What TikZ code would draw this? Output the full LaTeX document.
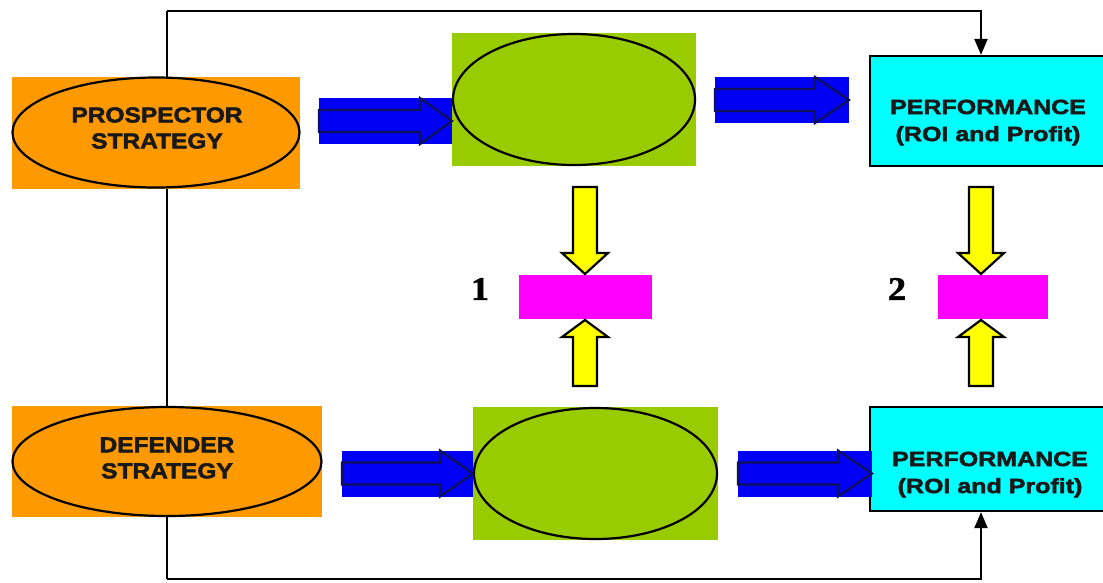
\documentclass[tikz,border=0pt]{standalone}
\usepackage{fontspec}
\setmainfont{Liberation Sans}
\newfontfamily\orfont[FakeStretch=1.14,FakeBold=2.5]{Liberation Sans Bold}
\newfontfamily\cyfont[FakeStretch=1.22,FakeBold=2.5]{Liberation Sans Bold}
\newfontfamily\numfont[FakeStretch=1.1,FakeBold=1.5]{Liberation Serif Bold}
\usetikzlibrary{shapes.geometric,arrows.meta}
\definecolor{orng}{RGB}{255,153,0}
\definecolor{lgreen}{RGB}{153,204,0}
\definecolor{blu}{RGB}{0,0,245}
\definecolor{navy}{RGB}{15,15,90}
\definecolor{cyn}{RGB}{0,255,255}
\definecolor{mag}{RGB}{255,0,255}
\definecolor{yel}{RGB}{255,255,0}
\definecolor{txt}{RGB}{25,25,25}
\tikzset{
  orbox/.style={rectangle,fill=orng,draw=none,inner sep=0pt},
  grbox/.style={rectangle,fill=lgreen,draw=none,inner sep=0pt},
  inell/.style={ellipse,draw=black,line width=2.2pt,inner sep=0pt},
  cybox/.style={rectangle,fill=cyn,draw=black,line width=2.2pt,inner sep=0pt},
  mgbox/.style={rectangle,fill=mag,draw=none,inner sep=0pt},
  ortext/.style={align=center,inner sep=0pt,text=txt,font=\orfont\fontsize{21.5}{26}\selectfont},
  cytext/.style={align=center,inner sep=0pt,text=txt,font=\cyfont\fontsize{20.5}{27}\selectfont},
  numtext/.style={inner sep=0pt,text=black,font=\numfont\fontsize{33}{36}\selectfont},
  link/.style={draw=black,line width=2.2pt},
  linkarrow/.style={link,-{Triangle[width=13pt,length=16pt]}},
  bluarrow/.style={fill=blu,draw=navy,line width=2.2pt,line join=miter},
  yelarrow/.style={fill=yel,draw=black,line width=2.2pt,line join=miter}
}
% blue block arrow: x1, x2, ycenter, head start
\newcommand{\blockarrow}[4]{%
  \fill[blu] (#1,#3-23) rectangle (#2,#3+23);
  \path[bluarrow] (#1,#3-11) -- (#4,#3-11) -- (#4,#3-23) -- (#2,#3) -- (#4,#3+23) -- (#4,#3+11) -- (#1,#3+11) -- cycle;}
% yellow arrow pointing down: x, ytop, headbase, tip
\newcommand{\yeldown}[4]{%
  \path[yelarrow] (#1-12,#2) -- (#1+12,#2) -- (#1+12,#3) -- (#1+23,#3) -- (#1,#4) -- (#1-23,#3) -- (#1-12,#3) -- cycle;}
\begin{document}
\begin{tikzpicture}[x=1pt,y=-1pt]
\useasboundingbox (0,0) rectangle (1103,582);
% corner coordinates of the feedback lines
\coordinate (tl) at (167,11);
\coordinate (bl) at (167,579);
\coordinate (tr) at (981,11);
\coordinate (br) at (981,579);
\draw[link] (tl) -- (bl);
% orange strategy boxes
\node[orbox,minimum width=288pt,minimum height=112pt] (o1) at (156,133) {};
\node[inell,minimum width=287pt,minimum height=110pt] (e1) at (156,132.5) {};
\node[ortext] (t1) at (157,128) {PROSPECTOR\\STRATEGY};
\node[orbox,minimum width=310pt,minimum height=111pt] (o2) at (167,461.5) {};
\node[inell,minimum width=309pt,minimum height=109pt] (e2) at (167,461.5) {};
\node[ortext] (t2) at (167,458) {DEFENDER\\STRATEGY};
% green boxes
\node[grbox,minimum width=244pt,minimum height=133pt] (g1) at (574,99.5) {};
\node[inell,minimum width=242pt,minimum height=131pt] (ge1) at (574,99.5) {};
\node[grbox,minimum width=245pt,minimum height=133pt] (g2) at (595.5,473.5) {};
\node[inell,minimum width=243pt,minimum height=131pt] (ge2) at (595.5,473.5) {};
% cyan performance boxes
\node[cybox,minimum width=236pt,minimum height=110pt] (c1) at (988,111) {};
\node[cytext] (ct1) at (988,122.5) {PERFORMANCE\\(ROI and Profit)};
\node[cybox,minimum width=236pt,minimum height=104pt] (c2) at (988,459) {};
\node[cytext] (ct2) at (990,474.5) {PERFORMANCE\\(ROI and Profit)};
% magenta boxes and labels
\node[mgbox,minimum width=133pt,minimum height=44pt] (m1) at (585.5,297) {};
\node[mgbox,minimum width=110pt,minimum height=44pt] (m2) at (993,297) {};
\node[numtext] (n1) at (480,289) {1};
\node[numtext] (n2) at (897,289) {2};
% feedback lines with arrows
\draw[linkarrow] (tl) -- (tr) -- (tr |- c1.north);
\draw[linkarrow] (bl) -- (br) -- (br |- c2.south);
% blue block arrows
\blockarrow{319}{452}{121}{420}
\blockarrow{715}{849}{100}{815}
\blockarrow{342}{473}{473.5}{440}
\blockarrow{738}{872}{473.5}{838}
% yellow arrows
\yeldown{585}{187}{253}{274}
\yeldown{585}{386}{337}{320}
\yeldown{981}{187}{253}{274}
\yeldown{981}{386}{337}{320}
\end{tikzpicture}
\end{document}
